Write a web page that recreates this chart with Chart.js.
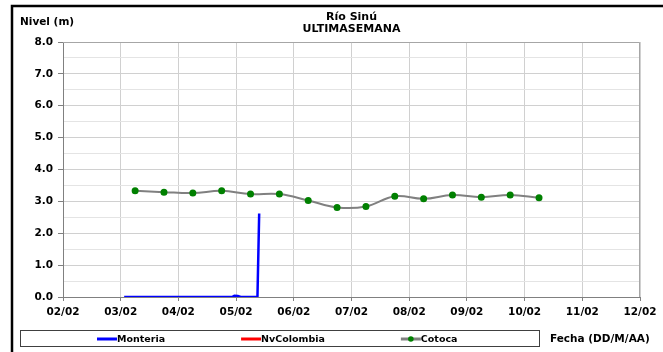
<!DOCTYPE html>
<html>
<head>
<meta charset="utf-8">
<script src="https://cdn.jsdelivr.net/npm/chart.js@4"></script>
<style>
  html, body { margin: 0; padding: 0; background: #fff; overflow: hidden; }
  #wrap { width: 663px; height: 352px; }
  canvas { display: block; }
</style>
</head>
<body>
<div id="wrap"><canvas id="myChart" width="663" height="352"></canvas></div>
<script>
// etiquetas del eje x (dias)
const dayLabels = ["02/02", "03/02", "04/02", "05/02", "06/02", "07/02",
  "08/02", "09/02", "10/02", "11/02", "12/02"];

// Cotoca: cada 12 horas (x en dias desde 02/02)
const cotocaX = [1.25, 1.75, 2.25, 2.75, 3.25, 3.75, 4.25, 4.75,
  5.25, 5.75, 6.25, 6.75, 7.25, 7.75, 8.25];
const cotocaNivel = [3.33, 3.29, 3.26, 3.33, 3.23, 3.23, 3.03, 2.81,
  2.84, 3.16, 3.08, 3.20, 3.13, 3.20, 3.11];

// Monteria
const monteriaX = [1.06, 2.93, 2.97, 3.03, 3.08, 3.37, 3.40];
const monteriaNivel = [0.0, 0.0, 0.04, 0.03, 0.0, 0.0, 2.62];

// NvColombia (sin datos)
const nvColombiaX = [];
const nvColombiaNivel = [];

const toPoints = (xs, ys) => xs.map((x, i) => ({ x: x, y: ys[i] }));

const FONT = "'DejaVu Sans', 'Liberation Sans', Arial, sans-serif";

const data = {
  datasets: [
    {
      label: "Monteria",
      data: toPoints(monteriaX, monteriaNivel),
      borderColor: "#0000ff",
      backgroundColor: "#0000ff",
      borderWidth: 2.5,
      pointRadius: 0,
      tension: 0,
    },
    {
      label: "NvColombia",
      data: toPoints(nvColombiaX, nvColombiaNivel),
      borderColor: "#ff0000",
      backgroundColor: "#ff0000",
      borderWidth: 2,
      pointRadius: 0,
    },
    {
      label: "Cotoca",
      data: toPoints(cotocaX, cotocaNivel),
      borderColor: "#808080",
      backgroundColor: "#008000",
      pointBackgroundColor: "#008000",
      pointBorderColor: "#008000",
      pointRadius: 2.5,
      borderWidth: 2,
      tension: 0.4,
    },
  ],
};

// marco, titulos y leyenda dibujados a mano
const decor = {
  id: "decor",
  beforeDatasetsDraw(chart) {
    const { ctx, chartArea: a } = chart;
    ctx.save();
    ctx.strokeStyle = "#a6a6a6";
    ctx.lineWidth = 1;
    ctx.beginPath();
    ctx.moveTo(a.left, a.top + 0.5);
    ctx.lineTo(a.right - 0.5, a.top + 0.5);
    ctx.lineTo(a.right - 0.5, a.bottom);
    ctx.stroke();
    ctx.restore();
  },
  afterDraw(chart) {
    const { ctx, chartArea: a } = chart;
    ctx.save();
    // marco exterior (solo arriba e izquierda visibles)
    ctx.strokeStyle = "#000";
    ctx.lineWidth = 2.5;
    ctx.beginPath();
    ctx.moveTo(12, 360);
    ctx.lineTo(12, 6);
    ctx.lineTo(670, 6);
    ctx.stroke();

    ctx.fillStyle = "#000";
    ctx.textBaseline = "middle";
    ctx.font = "bold 11px " + FONT;
    ctx.textAlign = "center";
    const cx = (a.left + a.right) / 2;
    ctx.fillText("Río Sinú", cx, 17);
    ctx.fillText("ULTIMASEMANA", cx, 29);

    ctx.textAlign = "left";
    ctx.font = "bold 10.5px " + FONT;
    ctx.fillText("Nivel (m)", 20, 22);
    ctx.fillText("Fecha (DD/M/AA)", 550, 339);

    // caja de leyenda
    ctx.strokeStyle = "#404040";
    ctx.lineWidth = 1;
    ctx.strokeRect(20.5, 330.5, 519, 16);

    ctx.font = "bold 9.5px " + FONT;
    let x = 97;
    chart.data.datasets.forEach((ds) => {
      ctx.strokeStyle = ds.borderColor;
      ctx.lineWidth = 3;
      ctx.beginPath();
      ctx.moveTo(x, 339);
      ctx.lineTo(x + 20, 339);
      ctx.stroke();
      if (ds.pointRadius > 0) {
        ctx.fillStyle = ds.pointBackgroundColor;
        ctx.beginPath();
        ctx.arc(x + 10, 339, 2.8, 0, Math.PI * 2);
        ctx.fill();
      }
      ctx.fillStyle = "#000";
      ctx.fillText(ds.label, x + 20, 339.5);
      x += 20 + ctx.measureText(ds.label).width + 76;
    });
    ctx.restore();
  },
};

const config = {
  type: "line",
  data: data,
  options: {
    responsive: false,
    animation: false,
    layout: { padding: { top: 42, left: 12, right: 23, bottom: 35 } },
    plugins: {
      legend: { display: false },
      title: { display: false },
      tooltip: { enabled: false },
    },
    scales: {
      x: {
        type: "linear",
        min: 0,
        max: 10,
        afterFit: (s) => { s.height = 20; },
        ticks: {
          stepSize: 1,
          autoSkip: false,
          maxRotation: 0,
          padding: 5,
          color: "#000",
          font: { family: FONT, size: 10.5, weight: "bold" },
          callback: (v) => dayLabels[v],
        },
        grid: { color: "#d0d0d0", tickLength: 4, tickColor: "#808080" },
        border: { color: "#808080", width: 1 },
      },
      y: {
        min: 0,
        max: 8,
        afterFit: (s) => { s.width = 51; },
        ticks: {
          stepSize: 0.5,
          autoSkip: false,
          padding: 5,
          color: "#000",
          font: { family: FONT, size: 10.5, weight: "bold" },
          callback: (v) => (Number.isInteger(v) ? v.toFixed(1) : ""),
        },
        grid: {
          color: (c) => (Number.isInteger(c.tick.value) ? "#d0d0d0" : "#e4e4e4"),
          tickColor: (c) => (Number.isInteger(c.tick.value) ? "#808080" : "rgba(0,0,0,0)"),
          tickLength: 5,
        },
        border: { color: "#808080", width: 1 },
      },
    },
  },
  plugins: [decor],
};

const myChart = new Chart(document.getElementById("myChart"), config);
</script>
</body>
</html>
